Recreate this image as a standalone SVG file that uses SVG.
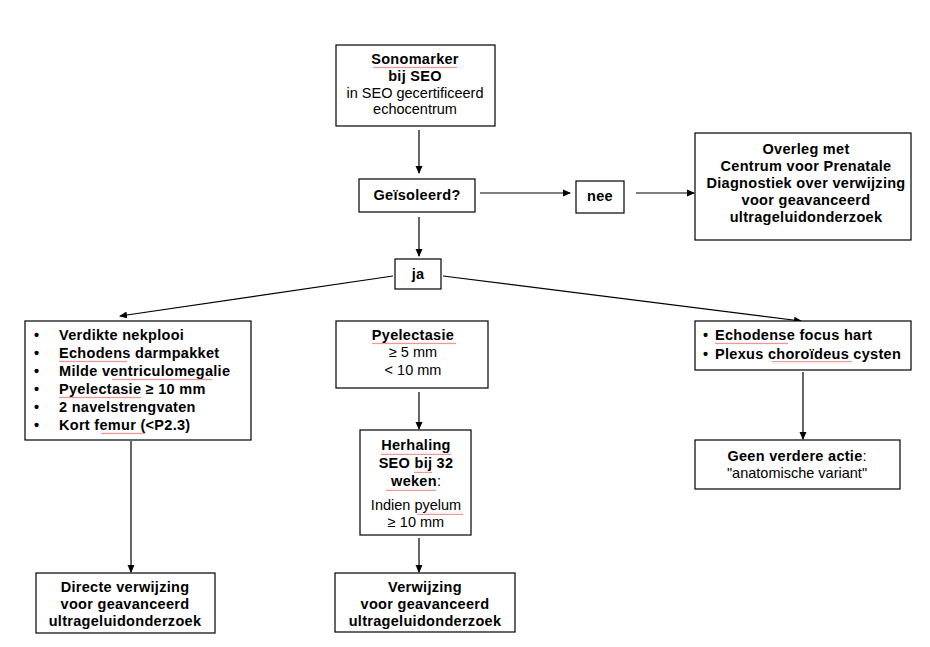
<svg xmlns="http://www.w3.org/2000/svg" width="930" height="647" viewBox="0 0 930 647">
<defs>
<marker id="ah" markerWidth="8" markerHeight="8" refX="7" refY="4" orient="auto" markerUnits="userSpaceOnUse">
<path d="M0,0.5 L8,4 L0,7.5 Z" fill="#000"/>
</marker>
<pattern id="sq" width="4" height="3" patternUnits="userSpaceOnUse">
<path d="M0,2.2 L1,0.8 L2,2.2 L3,0.8 L4,2.2" fill="none" stroke="#e05050" stroke-width="0.6"/>
</pattern>
</defs>
<style>
.box{fill:#fff;stroke:#000;stroke-width:1.2}
text{font-family:"Liberation Sans",Arial,sans-serif;font-size:14.5px;fill:#000}
.b{font-weight:bold;letter-spacing:0.3px}
.c{text-anchor:middle}
.con line{stroke:#000;stroke-width:1.2;marker-end:url(#ah)}
.sq{fill:url(#sq)}
</style>
<rect width="930" height="647" fill="#fff"/>

<g class="con">
<line x1="419" y1="130" x2="419" y2="173"/>
<line x1="480" y1="193" x2="570" y2="193"/>
<line x1="636" y1="193" x2="694" y2="193"/>
<line x1="419" y1="217" x2="419" y2="256"/>
<line x1="393" y1="276" x2="120" y2="316"/>
<line x1="443" y1="276" x2="801" y2="321"/>
<line x1="419" y1="392" x2="419" y2="429"/>
<line x1="419" y1="538" x2="419" y2="572"/>
<line x1="131" y1="441" x2="131" y2="572"/>
<line x1="803" y1="372" x2="803" y2="439"/>
</g>

<g id="sonomarker">
<rect class="box" x="336" y="45" width="159" height="81"/>
<text class="b c" x="415" y="64">Sonomarker</text>
<rect class="sq" x="373" y="66" width="84" height="3"/>
<text class="b c" x="415" y="81">bij SEO</text>
<text class="c" x="415" y="98">in SEO gecertificeerd</text>
<text class="c" x="415" y="114">echocentrum</text>
</g>

<g id="geisoleerd">
<rect class="box" x="359" y="179" width="116" height="33"/>
<text class="b c" x="417" y="200">Geïsoleerd?</text>
</g>

<g id="nee">
<rect class="box" x="576" y="181" width="48" height="32"/>
<text class="b c" x="600" y="201">nee</text>
</g>

<g id="overleg">
<rect class="box" x="695" y="133" width="216" height="107"/>
<text class="b c" x="806" y="154">Overleg met</text>
<text class="b c" x="806" y="171">Centrum voor Prenatale</text>
<text class="b c" x="806" y="188">Diagnostiek over verwijzing</text>
<text class="b c" x="806" y="205">voor geavanceerd</text>
<text class="b c" x="806" y="222">ultrageluidonderzoek</text>
</g>

<g id="ja">
<rect class="box" x="395" y="259" width="46" height="30"/>
<text class="b c" x="418" y="279">ja</text>
</g>

<g id="kenmerken">
<rect class="box" x="25" y="321" width="226" height="119"/>
<g class="b">
<text x="34" y="340">•</text><text x="59" y="340">Verdikte nekplooi</text>
<text x="34" y="358">•</text><text x="59" y="358">Echodens darmpakket</text>
<text x="34" y="376">•</text><text x="59" y="376">Milde ventriculomegalie</text>
<text x="34" y="394">•</text><text x="59" y="394">Pyelectasie  ≥ 10 mm</text>
<text x="34" y="412">•</text><text x="59" y="412">2 navelstrengvaten</text>
<text x="34" y="430">•</text><text x="59" y="430">Kort femur (&lt;P2.3)</text>
</g>
<rect class="sq" x="59" y="360" width="68" height="3"/>
<rect class="sq" x="112" y="378" width="100" height="3"/>
<rect class="sq" x="59" y="396" width="82" height="3"/>
<rect class="sq" x="101" y="432" width="44" height="3"/>
</g>

<g id="pyelectasie">
<rect class="box" x="336" y="321" width="152" height="67"/>
<text class="b c" x="413" y="340">Pyelectasie</text>
<rect class="sq" x="372" y="342" width="84" height="3"/>
<text class="c" x="413" y="357">≥ 5 mm</text>
<text class="c" x="413" y="375">&lt; 10 mm</text>
</g>

<g id="herhaling">
<rect class="box" x="360" y="430" width="111" height="105"/>
<text class="b c" x="416" y="450">Herhaling</text>
<rect class="sq" x="381" y="452" width="70" height="3"/>
<text class="b c" x="416" y="468">SEO bij 32</text>
<rect class="sq" x="414" y="470" width="18" height="3"/>
<text class="c" x="416" y="486"><tspan class="b">weken</tspan>:</text>
<rect class="sq" x="386" y="488" width="50" height="3"/>
<text class="c" x="416" y="510">Indien pyelum</text>
<rect class="sq" x="417" y="512" width="46" height="3"/>
<text class="c" x="416" y="527">≥ 10 mm</text>
</g>

<g id="verwijzing">
<rect class="box" x="335" y="573" width="180" height="59"/>
<text class="b c" x="425" y="592">Verwijzing</text>
<text class="b c" x="425" y="609">voor geavanceerd</text>
<text class="b c" x="425" y="626">ultrageluidonderzoek</text>
</g>

<g id="directe">
<rect class="box" x="36" y="573" width="179" height="60"/>
<text class="b c" x="125" y="592">Directe verwijzing</text>
<text class="b c" x="125" y="609">voor geavanceerd</text>
<text class="b c" x="125" y="626">ultrageluidonderzoek</text>
</g>

<g id="echodense">
<rect class="box" x="695" y="321" width="216" height="49"/>
<g class="b">
<text x="703" y="340">•</text><text x="715" y="340">Echodense focus hart</text>
<text x="703" y="359">•</text><text x="715" y="359">Plexus choroïdeus cysten</text>
</g>
<rect class="sq" x="715" y="342" width="73" height="3"/>
<rect class="sq" x="772" y="361" width="80" height="3"/>
</g>

<g id="geenactie">
<rect class="box" x="695" y="440" width="205" height="49"/>
<text class="c" x="797" y="461"><tspan class="b">Geen verdere actie</tspan>:</text>
<text class="c" x="797" y="478">"anatomische variant"</text>
</g>
</svg>
